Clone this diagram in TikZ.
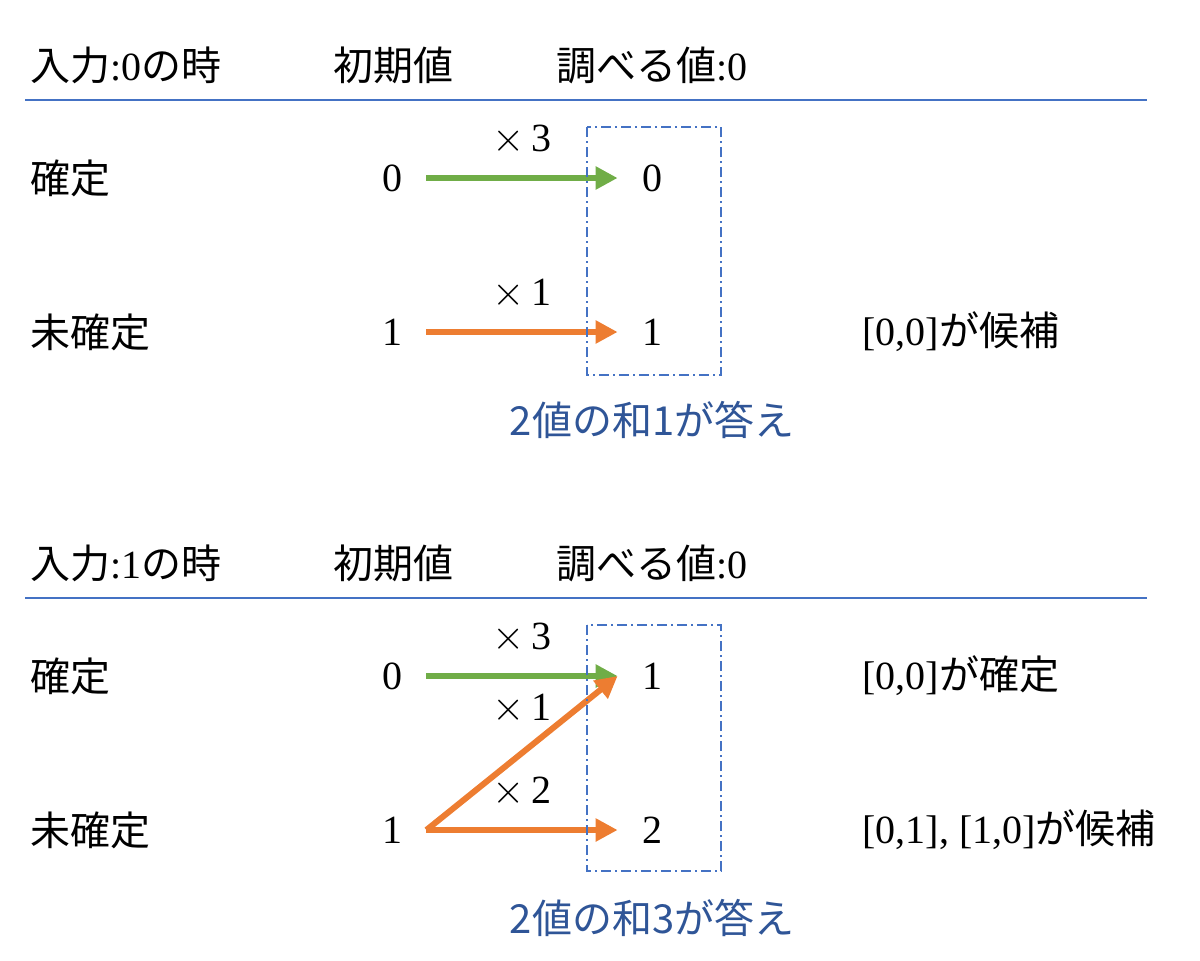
\documentclass[tikz,border=0pt]{standalone}
\usepackage{fontspec}
\setmainfont{Liberation Serif}
\newfontfamily\jp{Noto Sans CJK JP}
\usetikzlibrary{arrows.meta}

\definecolor{lineblue}{HTML}{4472C4}
\definecolor{ansblue}{HTML}{2F5597}
\definecolor{fixgreen}{HTML}{70AD47}
\definecolor{candorange}{HTML}{ED7D31}

\tikzset{
  txt/.style={font=\fontsize{20}{24}\selectfont, inner sep=0pt},
  lefttxt/.style={txt, anchor=west},
  val/.style={txt, inner xsep=12pt},
  mul/.style={txt, midway, above=10pt},
  flow/.style={line width=3pt, -{Triangle[length=11pt,width=11pt]}},
  rule/.style={lineblue, line width=0.8pt},
  sumbox/.style={lineblue, line width=0.8pt, dash pattern=on 5pt off 2pt on 1pt off 2pt},
  answer/.style={txt, ansblue, font=\fontsize{20}{24}\selectfont\jp},
}

\begin{document}
\begin{tikzpicture}[x=0.5pt, y=-0.5pt]
    \useasboundingbox (0,0) rectangle (1200,960);

    % ---- input 0 ----
    % Header
    \node[lefttxt] (headA) at (30,65) {{\jp 入力}:0{\jp の時}};
    \node[lefttxt] (initA) at (333,65) {\jp 初期値};
    \node[lefttxt] (lookA) at (556,65) {{\jp 調べる値}:0};
    \draw[rule] (25,100) -- (1147,100);

    % Rows
    \node[lefttxt] (fixA) at (30,178) {\jp 確定};
    \node[lefttxt] (undA) at (30,332) {\jp 未確定};
    \node[val] (sfixA) at (392,178) {0};
    \node[val] (sundA) at (392,332) {1};
    \node[val] (tfixA) at (652,178) {0};
    \node[val] (tundA) at (652,332) {1};
    \node[lefttxt] (candA) at (862,332) {[0,0]{\jp が候補}};

    % Arrows
    \draw[flow, fixgreen] (sfixA.east) -- (tfixA.west) node[mul, black] {$\times$\,3};
    \draw[flow, candorange] (sundA.east) -- (tundA.west) node[mul, black] {$\times$\,1};

    % Sum box
    \draw[sumbox] (587,127) rectangle (721,375);
    \node[answer] (ansA) at (652,420) {2値の和1が答え};

    % ---- input 1 ----
    % Header
    \node[lefttxt] (headB) at (30,563) {{\jp 入力}:1{\jp の時}};
    \node[lefttxt] (initB) at (333,563) {\jp 初期値};
    \node[lefttxt] (lookB) at (556,563) {{\jp 調べる値}:0};
    \draw[rule] (25,598) -- (1147,598);

    % Rows
    \node[lefttxt] (fixB) at (30,676) {\jp 確定};
    \node[lefttxt] (undB) at (30,830) {\jp 未確定};
    \node[val] (sfixB) at (392,676) {0};
    \node[val] (sundB) at (392,830) {1};
    \node[val] (tfixB) at (652,676) {1};
    \node[val] (tundB) at (652,830) {2};
    \node[lefttxt] (doneB) at (862,676) {[0,0]{\jp が確定}};
    \node[lefttxt] (candB) at (862,830) {[0,1], [1,0]{\jp が候補}};

    % Arrows
    \draw[flow, fixgreen] (sfixB.east) -- (tfixB.west) node[mul, black] {$\times$\,3};
    \draw[flow, candorange] (sundB.east) -- (tfixB.west) node[txt, midway, yshift=22pt, black] {$\times$\,1};
    \draw[flow, candorange] (sundB.east) -- (tundB.west) node[mul, black] {$\times$\,2};

    % Sum box
    \draw[sumbox] (587,625) rectangle (721,871);
    \node[answer] (ansB) at (652,918) {2値の和3が答え};
\end{tikzpicture}
\end{document}
